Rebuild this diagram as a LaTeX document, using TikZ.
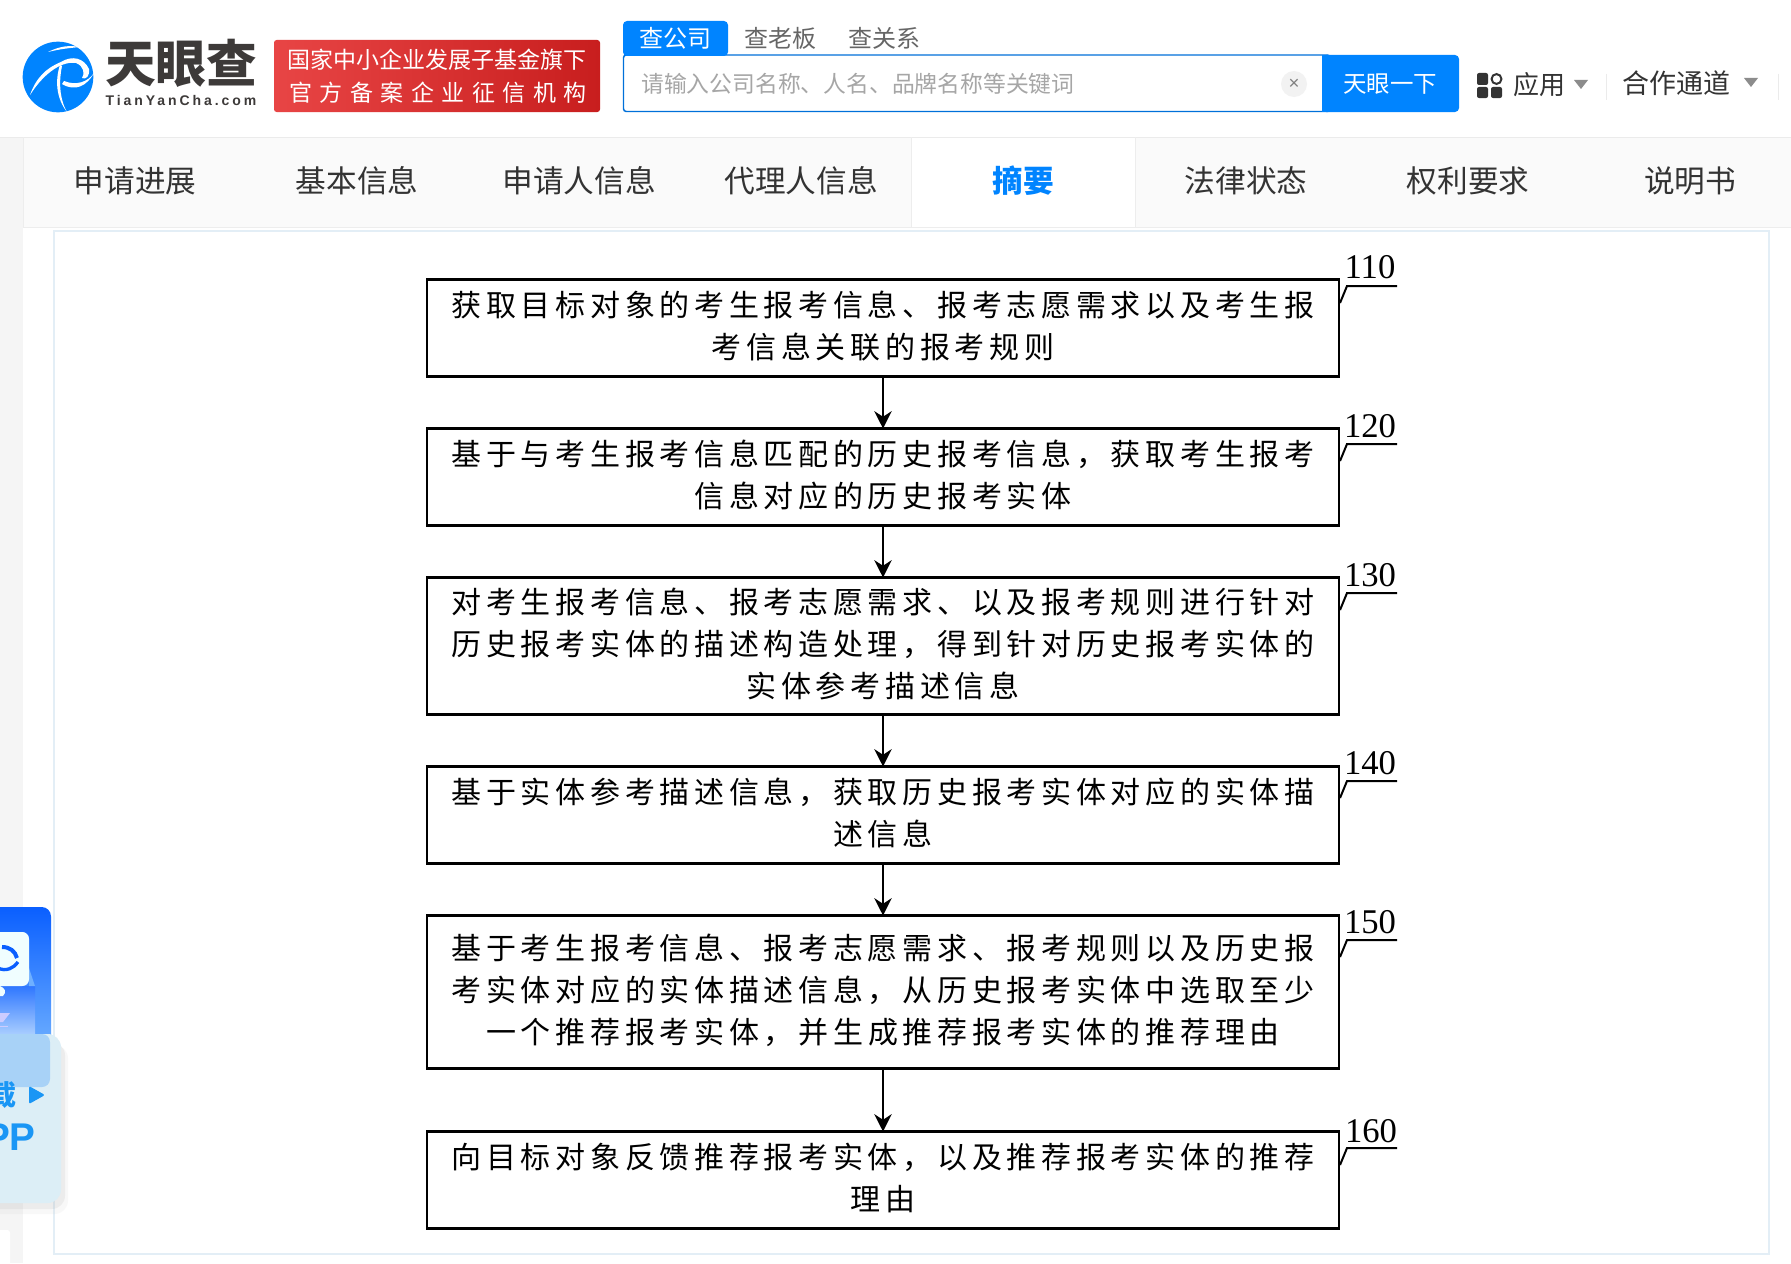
\documentclass[tikz,border=0pt]{standalone}
\usepackage{xcolor}
\usepackage{fontspec}
\usepackage{tikz}
\usetikzlibrary{arrows.meta, positioning}
\setmainfont{Liberation Serif}
\newfontfamily\cjk{Noto Sans CJK SC}
\newfontfamily\cjkstep[LetterSpace=15.7]{Noto Sans CJK SC}
\newfontfamily\cjkwide[LetterSpace=32.7]{Noto Sans CJK SC}
\newfontfamily\logolatin[LetterSpace=21]{Liberation Sans}
\newfontfamily\appfont{Liberation Sans}
\definecolor{brandblue}{HTML}{0084FF}
\definecolor{darktext}{HTML}{333333}
\definecolor{logotext}{HTML}{3D3A39}
\definecolor{framecol}{HTML}{E3EEF6}
\definecolor{badgelight}{HTML}{E84545}
\definecolor{badgedark}{HTML}{C81E1E}
\definecolor{widgettop}{HTML}{0A5FFF}
\definecolor{widgetlow}{HTML}{6FB0FF}
\definecolor{glass}{HTML}{DCEEF6}
\definecolor{glassblur}{HTML}{A8D2F7}
\definecolor{widgettext}{HTML}{1A96F5}

\begin{document}
\begin{tikzpicture}[
    x=0.75pt, y=-0.75pt,
    stepbox/.style={rectangle, draw=black, line width=1.7pt, fill=white, minimum width=684pt, inner sep=0pt, outer sep=0pt, align=center, text depth=5.2pt, font=\fontsize{22.5pt}{31.5pt}\cjkstep},
    twoline/.style={stepbox, minimum height=72.75pt},
    flow/.style={line width=1.5pt, -{Stealth[length=13pt,width=13pt]}},
    leader/.style={line width=1.5pt},
    refnum/.style={inner sep=0pt, font=\fontsize{26pt}{26pt}\selectfont},
    web/.style={inner sep=0pt, text height=.88em, text depth=.12em, font=\fontsize{#1}{#1}\cjk},
    tabitem/.style={web=23pt, text=darktext}
]
\useasboundingbox (0,0) rectangle (1791,1263);
\fill[white] (0,0) rectangle (1791,1263);

% Page background
\fill[black!4] (0,137) rectangle (23,1263);
\fill[white, rounded corners=2pt] (-10,1230) rectangle (10,1280);
\fill[black!2] (23,137) rectangle (1791,227);
\draw[black!8, line width=0.75pt] (0,137) -- (1791,137);
\draw[black!7, line width=0.75pt] (23,227.5) -- (1791,227.5);
\draw[black!7, line width=0.75pt] (23,137) -- (23,227);
\fill[white] (911,137.5) rectangle (1135,227);
\draw[black!7, line width=0.75pt] (911,137) -- (911,227);
\draw[black!7, line width=0.75pt] (1135,137) -- (1135,227);
\draw[framecol, line width=1.5pt, fill=white] (54,231) rectangle (1769,1254);

% Logo
\fill[brandblue] (58,77) circle (26.5pt);
\fill[white] (48,52) .. controls (60,46) and (70,45) .. (80,47) .. controls (70,48) and (60,49) .. (48,52) -- cycle;
\fill[white] (30,95) .. controls (36,78) and (46,68) .. (61,62) .. controls (72,55) and (84,58) .. (89,69) .. controls (90,76) and (86,80) .. (82,78) .. controls (85,74) and (84,66) .. (76,63) .. controls (64,61) and (46,70) .. (30,95) -- cycle;
\fill[white] (60,65) .. controls (55,80) and (56,98) .. (67,112) .. controls (59,98) and (59,80) .. (62,66) -- cycle;
\fill[white] (62,84) .. controls (75,92) and (87,86) .. (94,73) .. controls (88,82) and (76,86) .. (64,81) -- cycle;
\node[inner sep=0pt, text height=.88em, text depth=.12em, text=logotext, font=\fontsize{38pt}{38pt}\cjk\bfseries] (brand) at (181,77) {天眼查};
\node[inner sep=0pt, text=logotext, font=\fontsize{10.5pt}{10.5pt}\logolatin\bfseries] (brandsite) at (181,100) {TianYanCha.com};

% Red badge
\shade[left color=badgelight, right color=badgedark, rounded corners=2pt] (274,40) rectangle (600,112);
\node[web=17.25pt, text=white] (badgeone) at (437,63) {国家中小企业发展子基金旗下};
\node[inner sep=0pt, text height=.88em, text depth=.12em, text=white, font=\fontsize{17.25pt}{17.25pt}\cjkwide] (badgetwo) at (438,96) {官方备案企业征信机构};

% Search bar
\draw[brandblue!85!black, line width=1.1pt, fill=white, rounded corners=2pt] (623.5,55) rectangle (1330,111.5);
\fill[brandblue, rounded corners=3pt] (623,21) rectangle (728,56);
\fill[brandblue, rounded corners=3pt] (1322,55) rectangle (1459,112);
\fill[brandblue] (1322,55) rectangle (1335,112);
\node[web=18pt, text=white] (tabcompany) at (675,42) {查公司};
\node[web=18pt, text=black!60] (tabboss) at (780,42) {查老板};
\node[web=18pt, text=black!60] (tabrelation) at (884,42) {查关系};
\node[web=17.1pt, text=black!35, anchor=west] (searchhint) at (641,87) {请输入公司名称、人名、品牌名称等关键词};
\fill[black!5] (1294,84) circle (9.75pt);
\node[inner sep=0pt, text=black!50, font=\fontsize{14pt}{14pt}\appfont] (searchclear) at (1294,84) {×};
\node[web=17.6pt, text=white] (searchgo) at (1390,87) {天眼一下};

% Right menu
\fill[darktext, rounded corners=1.5pt] (1477,73) rectangle (1488,85);
\draw[darktext, line width=1.5pt] (1496.5,79) circle (3.7pt);
\fill[darktext, rounded corners=1.5pt] (1477,87) rectangle (1488,98);
\fill[darktext, rounded corners=1.5pt] (1491,87) rectangle (1502,98);
\node[web=19.5pt, text=darktext] (menuapps) at (1539,89) {应用};
\fill[black!45] (1574,80) -- (1588,80) -- (1581,89) -- cycle;
\draw[black!8, line width=0.75pt] (1606,74) -- (1606,100);
\node[web=20.25pt, text=darktext] (menupartner) at (1676,88) {合作通道};
\fill[black!45] (1744,78) -- (1758,78) -- (1751,87) -- cycle;
\draw[black!8, line width=0.75pt] (1778,74) -- (1778,100);

% Navigation
\node[tabitem] (navprogress) at (135,187) {申请进展};
\node[tabitem] (navbasic) at (357,187) {基本信息};
\node[tabitem] (navapplicant) at (579,187) {申请人信息};
\node[tabitem] (navagent) at (801,187) {代理人信息};
\node[inner sep=0pt, text height=.88em, text depth=.12em, text=brandblue, font=\fontsize{23pt}{23pt}\cjk\bfseries] (navabstract) at (1023,187) {摘要};
\node[tabitem] (navlegal) at (1246,187) {法律状态};
\node[tabitem] (navclaims) at (1468,187) {权利要求};
\node[tabitem] (navspec) at (1690,187) {说明书};

% Floating widget
\shade[top color=widgettop, bottom color=widgetlow, rounded corners=7pt] (-20,907) rectangle (51,1050);
\shade[top color=widgettop!85!white, bottom color=widgetlow!50!white] (-20,986) -- (35,986) -- (35,1040) -- (-20,1040) -- cycle;
\fill[widgetlow] (29,968) -- (35,986) -- (29,986) -- cycle;
\fill[blue!3!cyan!6!white, rounded corners=5pt] (-20,932) -- (29,932) -- (29,986) -- (-20,986) -- cycle;
\draw[widgettop, line width=3pt] (2,947) .. controls (10,947) and (15,951) .. (17,958);
\draw[widgettop, line width=2.5pt] (-2,968) .. controls (6,972) and (14,968) .. (18,962);
\fill[blue!3!cyan!6!white] (0,986) .. controls (5,988) and (7,992) .. (3,996) -- (0,996) -- cycle;
\fill[white!80!blue] (0,1013) -- (10,1013) -- (3,1022) -- (0,1022) -- cycle;
\draw[white!80!blue, line width=0.75pt] (0,1026) -- (8,1026);
% Glass panel with soft edge
\fill[black!30, opacity=.08, rounded corners=10pt] (-20,1045) rectangle (68,1214);
\fill[black!40, opacity=.12, rounded corners=10pt] (-20,1042) rectangle (65,1209);
\fill[glass, rounded corners=10pt] (-20,1034) rectangle (61,1203);
\fill[glassblur, rounded corners=6pt] (-20,1034) -- (50,1034) -- (50,1087) -- (-20,1087) -- cycle;
\node[inner sep=0pt, anchor=east, text height=.88em, text depth=.12em, text=widgettext, font=\fontsize{21pt}{21pt}\cjk\bfseries] (widgetdown) at (17,1100) {载};
\fill[widgettext, rounded corners=1.5pt] (29,1086) -- (45,1095) -- (29,1104) -- cycle;
\node[inner sep=0pt, anchor=east, text=widgettext, font=\fontsize{29pt}{29pt}\appfont\bfseries] (widgetapp) at (36,1137) {PP};

% Flow steps
\node[twoline] (box110) at (883,328) {获取目标对象的考生报考信息、报考志愿需求以及考生报\\考信息关联的报考规则};
\node[twoline, below=39pt of box110] (box120) {基于与考生报考信息匹配的历史报考信息，获取考生报考\\信息对应的历史报考实体};
\node[stepbox, minimum height=102.75pt, below=39pt of box120] (box130) {对考生报考信息、报考志愿需求、以及报考规则进行针对\\历史报考实体的描述构造处理，得到针对历史报考实体的\\实体参考描述信息};
\node[twoline, below=39pt of box130] (box140) {基于实体参考描述信息，获取历史报考实体对应的实体描\\述信息};
\node[stepbox, minimum height=114.75pt, below=39pt of box140] (box150) {基于考生报考信息、报考志愿需求、报考规则以及历史报\\考实体对应的实体描述信息，从历史报考实体中选取至少\\一个推荐报考实体，并生成推荐报考实体的推荐理由};
\node[twoline, below=47.25pt of box150] (box160) {向目标对象反馈推荐报考实体，以及推荐报考实体的推荐\\理由};

% Arrows
\draw[flow] (box110) -- (box120);
\draw[flow] (box120) -- (box130);
\draw[flow] (box130) -- (box140);
\draw[flow] (box140) -- (box150);
\draw[flow] (box150) -- (box160);

% Reference numbers
\node[refnum] (num110) at (1370,267) {110};
\node[refnum] (num120) at (1370,426) {120};
\node[refnum] (num130) at (1370,575) {130};
\node[refnum] (num140) at (1370,763) {140};
\node[refnum] (num150) at (1370,922) {150};
\node[refnum] (num160) at (1371,1131) {160};
\coordinate (tick110) at (1340,303);
\coordinate (tick120) at (1340,461);
\coordinate (tick130) at (1340,610);
\coordinate (tick140) at (1340,798);
\coordinate (tick150) at (1340,957);
\coordinate (tick160) at (1340,1165);
\draw[leader] (tick110) -- ++(7,-17) -- ++(50,0);
\draw[leader] (tick120) -- ++(7,-17) -- ++(50,0);
\draw[leader] (tick130) -- ++(7,-17) -- ++(50,0);
\draw[leader] (tick140) -- ++(7,-17) -- ++(50,0);
\draw[leader] (tick150) -- ++(7,-17) -- ++(50,0);
\draw[leader] (tick160) -- ++(7,-17) -- ++(50,0);

\end{tikzpicture}
\end{document}
